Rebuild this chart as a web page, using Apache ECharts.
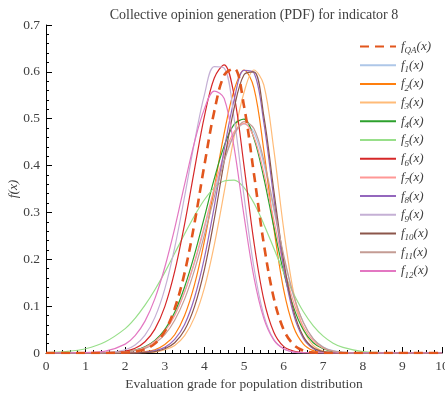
<!DOCTYPE html>
<html>
<head>
<meta charset="utf-8">
<script src="https://cdn.jsdelivr.net/npm/echarts@6/dist/echarts.min.js"></script>
<style>
  html, body { margin: 0; padding: 0; background: #fff; }
  #chart { width: 445px; height: 396px; }
</style>
</head>
<body>
<div id="chart"></div>
<script>
// Evaluation grades at which every density curve is sampled
const grades = [0, 0.5, 1, 1.5, 2, 2.25, 2.5, 2.75, 3, 3.25, 3.5, 3.75, 4, 4.25, 4.5, 4.75,
                5, 5.25, 5.5, 5.75, 6, 6.25, 6.5, 6.75, 7, 7.25, 7.5, 8, 8.5, 9, 9.5, 10];

// Collective opinion density
const fQA = [0, 0, 0, 0, 0.001, 0.003, 0.008, 0.020, 0.046, 0.095, 0.171, 0.277, 0.401, 0.516, 0.593, 0.607,
             0.527, 0.383, 0.233, 0.118, 0.050, 0.018, 0.005, 0.001, 0, 0, 0, 0, 0, 0, 0, 0];

// Individual opinion densities
const f1 = [0, 0, 0, 0.001, 0.003, 0.006, 0.013, 0.026, 0.048, 0.081, 0.130, 0.192, 0.266, 0.344, 0.414, 0.466,
            0.489, 0.471, 0.403, 0.306, 0.205, 0.122, 0.065, 0.030, 0.013, 0.005, 0.002, 0, 0, 0, 0, 0];
const f2 = [0, 0, 0, 0, 0, 0.001, 0.003, 0.007, 0.018, 0.039, 0.080, 0.146, 0.239, 0.353, 0.469, 0.561,
            0.604, 0.566, 0.433, 0.269, 0.136, 0.056, 0.019, 0.005, 0.001, 0, 0, 0, 0, 0, 0, 0];
const f3 = [0, 0, 0, 0, 0, 0, 0.001, 0.002, 0.007, 0.016, 0.037, 0.076, 0.139, 0.231, 0.344, 0.461,
            0.556, 0.604, 0.572, 0.436, 0.266, 0.130, 0.051, 0.016, 0.004, 0.001, 0, 0, 0, 0, 0, 0];
const f4 = [0, 0, 0, 0, 0.003, 0.006, 0.013, 0.027, 0.050, 0.087, 0.141, 0.210, 0.290, 0.372, 0.442, 0.488,
            0.499, 0.458, 0.374, 0.270, 0.173, 0.098, 0.049, 0.022, 0.009, 0.003, 0.001, 0, 0, 0, 0, 0];
const f5 = [0.001, 0.003, 0.009, 0.024, 0.052, 0.074, 0.102, 0.135, 0.172, 0.213, 0.254, 0.293, 0.327, 0.353, 0.367, 0.369,
            0.353, 0.320, 0.275, 0.224, 0.173, 0.127, 0.088, 0.058, 0.036, 0.021, 0.012, 0.003, 0.001, 0, 0, 0];
const f6 = [0, 0, 0, 0, 0.004, 0.010, 0.024, 0.051, 0.099, 0.174, 0.275, 0.392, 0.505, 0.587, 0.615, 0.550,
            0.400, 0.237, 0.114, 0.045, 0.014, 0.004, 0.001, 0, 0, 0, 0, 0, 0, 0, 0, 0];
const f7 = [0, 0, 0, 0, 0.002, 0.006, 0.012, 0.025, 0.046, 0.080, 0.130, 0.195, 0.271, 0.352, 0.423, 0.472,
            0.490, 0.461, 0.385, 0.285, 0.187, 0.109, 0.056, 0.026, 0.010, 0.004, 0.001, 0, 0, 0, 0, 0];
const f8 = [0, 0, 0, 0, 0, 0, 0.002, 0.005, 0.012, 0.029, 0.061, 0.118, 0.203, 0.313, 0.434, 0.540,
            0.603, 0.598, 0.492, 0.332, 0.183, 0.083, 0.031, 0.009, 0.002, 0.001, 0, 0, 0, 0, 0, 0];
const f9 = [0, 0, 0, 0.001, 0.007, 0.017, 0.038, 0.076, 0.137, 0.225, 0.334, 0.450, 0.551, 0.611, 0.608, 0.501,
            0.335, 0.183, 0.081, 0.029, 0.009, 0.002, 0, 0, 0, 0, 0, 0, 0, 0, 0, 0];
const f10 = [0, 0, 0, 0, 0, 0, 0.001, 0.003, 0.009, 0.022, 0.049, 0.099, 0.178, 0.286, 0.409, 0.522,
             0.594, 0.600, 0.506, 0.349, 0.197, 0.091, 0.035, 0.011, 0.003, 0.001, 0, 0, 0, 0, 0, 0];
const f11 = [0, 0, 0, 0, 0.002, 0.005, 0.010, 0.021, 0.039, 0.070, 0.115, 0.177, 0.252, 0.333, 0.409, 0.466,
             0.494, 0.479, 0.412, 0.313, 0.210, 0.124, 0.065, 0.030, 0.012, 0.004, 0.001, 0, 0, 0, 0, 0];
const f12 = [0, 0, 0.001, 0.004, 0.019, 0.037, 0.068, 0.116, 0.183, 0.266, 0.360, 0.450, 0.521, 0.559, 0.543, 0.439,
             0.293, 0.162, 0.074, 0.028, 0.009, 0.002, 0.001, 0, 0, 0, 0, 0, 0, 0, 0, 0];

// Legend subscripts, in drawing order
const subscripts = ['QA', '1', '2', '3', '4', '5', '6', '7', '8', '9', '10', '11', '12'];
const curves = [fQA, f1, f2, f3, f4, f5, f6, f7, f8, f9, f10, f11, f12];

const colors = ['#e2561d', '#aec7e8', '#ff7f0e', '#ffbb78', '#2ca02c', '#98df8a', '#d62728',
                '#ff9896', '#9467bd', '#c5b0d5', '#8c564b', '#c49c94', '#e377c2'];

const serif = '"Liberation Serif", "DejaVu Serif", serif';
const textColor = '#404040';

const series = curves.map((ys, k) => ({
  name: subscripts[k],
  type: 'line',
  data: grades.map((x, i) => [x, ys[i]]),
  smooth: 0.35,
  symbol: 'none',
  showSymbol: false,
  z: k === 0 ? 5 : 2,
  lineStyle: k === 0
    ? { color: colors[k], width: 2.6, type: [9, 6] }
    : { color: colors[k], width: 1.2 },
  itemStyle: { color: colors[k] }
}));

const chart = echarts.init(document.getElementById('chart'), null, { renderer: 'canvas' });
chart.setOption({
  animation: false,
  backgroundColor: '#ffffff',
  title: {
    text: 'Collective opinion generation (PDF) for indicator 8',
    left: 249,
    textAlign: 'center',
    top: 3,
    textStyle: { fontFamily: serif, fontSize: 14, fontWeight: 'normal', color: textColor }
  },
  grid: { left: 46, right: 3, top: 25, bottom: 43, containLabel: false, outerBoundsMode: 'none' },
  legend: {
    orient: 'vertical',
    left: 354,
    top: 35,
    itemWidth: 36,
    itemHeight: 10,
    itemGap: 3.2,
    data: subscripts,
    itemStyle: { opacity: 0 },
    formatter: name => `{i|f}{s|${name}}{i|(x)}`,
    textStyle: {
      fontFamily: serif,
      color: textColor,
      rich: {
        i: { fontFamily: serif, fontStyle: 'italic', fontSize: 13, lineHeight: 18, color: textColor },
        s: { fontFamily: serif, fontStyle: 'italic', fontSize: 9, lineHeight: 10, verticalAlign: 'bottom', color: textColor }
      }
    }
  },
  xAxis: {
    type: 'value',
    min: 0, max: 10, interval: 1,
    name: 'Evaluation grade for population distribution',
    nameLocation: 'middle',
    nameGap: 23,
    nameTextStyle: { fontFamily: serif, fontSize: 13.5, color: textColor },
    axisLine: { show: true, onZero: false, lineStyle: { color: '#000', width: 1 } },
    axisTick: { show: true, inside: true, length: 6, lineStyle: { color: '#000' } },
    minorTick: { show: true, splitNumber: 5, length: 3, lineStyle: { color: '#000' } },
    axisLabel: { fontFamily: serif, fontSize: 13.5, color: textColor, margin: 6, showMaxLabel: true },
    splitLine: { show: false }
  },
  yAxis: {
    type: 'value',
    min: 0, max: 0.7, interval: 0.1,
    name: 'f(x)',
    nameLocation: 'middle',
    nameGap: 26,
    nameMoveOverlap: false,
    nameTextStyle: { fontFamily: serif, fontStyle: 'italic', fontSize: 13.5, color: textColor },
    axisLine: { show: true, lineStyle: { color: '#000', width: 1 } },
    axisTick: { show: true, inside: true, length: 6, lineStyle: { color: '#000' } },
    minorTick: { show: true, splitNumber: 5, length: 3, lineStyle: { color: '#000' } },
    axisLabel: { fontFamily: serif, fontSize: 13.5, color: textColor, margin: 6 },
    splitLine: { show: false }
  },
  series: series
});
</script>
</body>
</html>
